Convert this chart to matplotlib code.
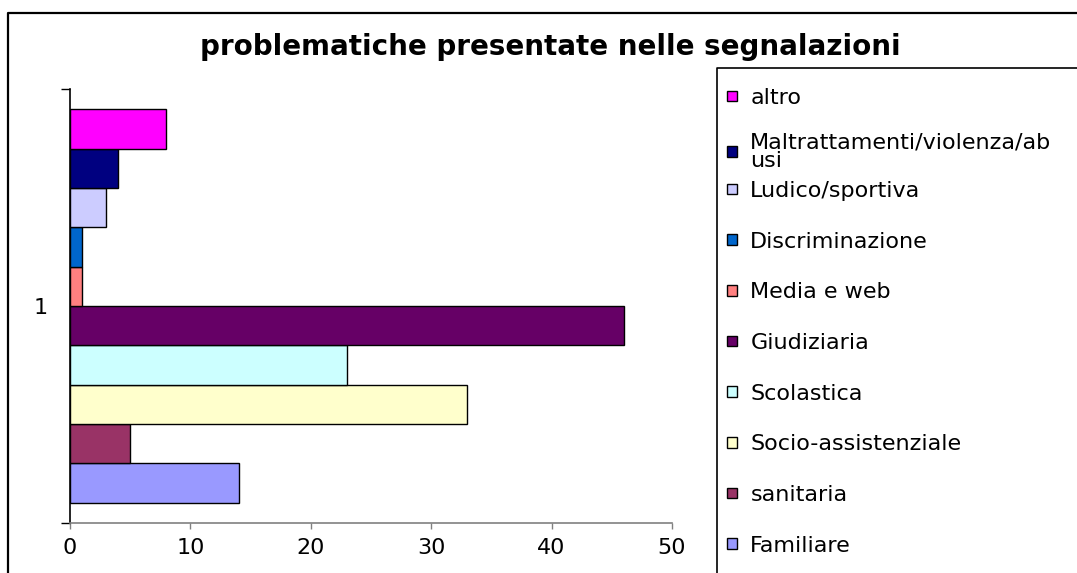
import matplotlib
matplotlib.use("Agg")
import matplotlib.pyplot as plt
from matplotlib.patches import Patch
from matplotlib.lines import Line2D

plt.rcParams['font.family'] = ['DejaVu Sans']

# series, bottom bar first (Excel order)
series = ["Familiare", "sanitaria", "Socio-assistenziale", "Scolastica",
          "Giudiziaria", "Media e web", "Discriminazione", "Ludico/sportiva",
          "Maltrattamenti/violenza/ab\nusi", "altro"]
values = [14, 5, 33, 23, 46, 1, 1, 3, 4, 8]
colors = ["#9999FF", "#993366", "#FFFFCC", "#CCFFFF", "#660066",
          "#FF8080", "#0066CC", "#CCCCFF", "#000080", "#FF00FF"]
category = "1"
xticks = [0, 10, 20, 30, 40, 50]

W, H = 1077, 573
fig = plt.figure(figsize=(W / 100, H / 100), dpi=100)

# chart border: only left and top edges are visible in the source
fig.add_artist(Line2D([8 / W, 8 / W, 1.0], [0.0, 1 - 13 / H, 1 - 13 / H],
                      transform=fig.transFigure, color="black", lw=1.6))

ax = fig.add_axes([70 / W, 1 - 523 / H, 602 / W, 434 / H])

n = len(series)
group = 0.906
bh = group / n
for i, (v, c) in enumerate(zip(values, colors)):
    y = -group / 2 + bh * (i + 0.5)
    ax.barh(y, v, height=bh, color=c, edgecolor="black", linewidth=1.0)

ax.set_xlim(0, 50)
ax.set_ylim(-0.5, 0.5)
ax.set_xticks(xticks)
ax.set_xticklabels([str(t) for t in xticks], fontsize=16)
ax.set_yticks([-0.5, 0.5])
ax.set_yticklabels(["", ""])
ax.set_yticks([0], minor=True)
ax.set_yticklabels([category], minor=True, fontsize=16)
ax.tick_params(axis="y", which="minor", length=0, pad=16)
ax.tick_params(axis="y", which="major", length=6.5, width=1, color="black")
ax.tick_params(axis="x", length=4.3, width=1, color="#808080", pad=6.5)

for s in ["top", "right"]:
    ax.spines[s].set_visible(False)
ax.spines["bottom"].set_color("#808080")
ax.spines["bottom"].set_linewidth(1.2)
ax.spines["left"].set_color("black")
ax.spines["left"].set_linewidth(1.2)

fig.text(550 / W, 1 - 47 / H, "problematiche presentate nelle segnalazioni",
         fontsize=20, fontweight="bold", ha="center", va="center")

# legend box, open to the right and bottom
fig.add_artist(Line2D([717 / W, 717 / W, 1.0], [0.0, 1 - 68 / H, 1 - 68 / H],
                      transform=fig.transFigure, color="black", lw=1.2))

handles = [Patch(facecolor=c, edgecolor="black", linewidth=1.0) for c in colors]
handles = handles[::-1]
labels = series[::-1]
leg_kw = dict(loc="upper left", frameon=False, fontsize=16,
              handlelength=0.45, handleheight=0.36, handletextpad=0.6,
              borderpad=0, borderaxespad=0)
# two blocks so the wrapped label does not stretch the spacing
leg1 = fig.legend(handles[:2], labels[:2], bbox_to_anchor=(727 / W, 1 - 88 / H),
                  labelspacing=1.1, **leg_kw)
leg2 = fig.legend(handles[2:], labels[2:], bbox_to_anchor=(727 / W, 1 - 181 / H),
                  labelspacing=1.38, **leg_kw)
for t in leg1.get_texts():
    t.set_linespacing(0.9)

fig.savefig("out.png", dpi=100)
